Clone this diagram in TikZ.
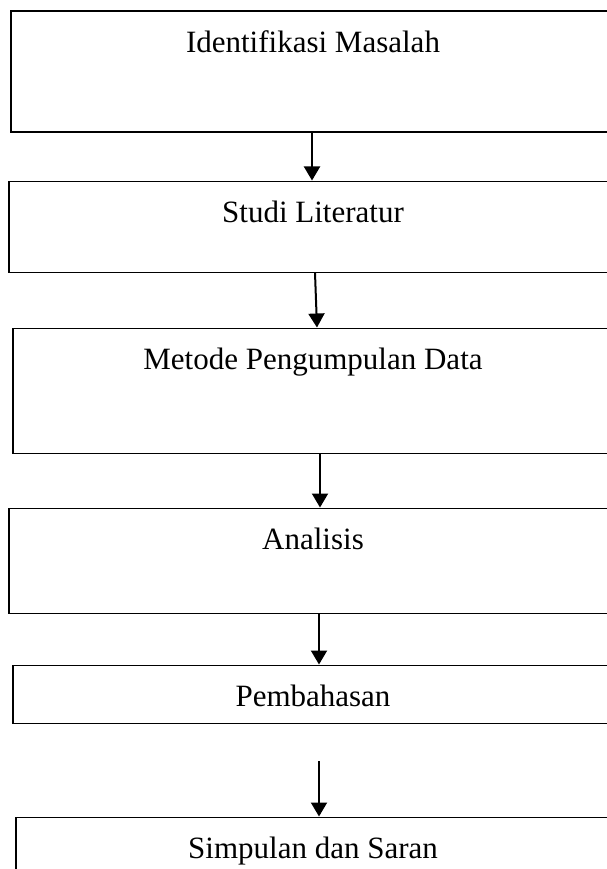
\documentclass[tikz,border=0pt]{standalone}
\usepackage{fontspec}
\setmainfont{Liberation Serif}
\usetikzlibrary{arrows.meta,positioning}

\begin{document}
\begin{tikzpicture}[x=1pt,y=1pt,>={Triangle[width=16pt,length=14pt]},
        node distance=48pt,
        tahap/.style={draw,line width=1.5pt,inner sep=0pt,text height=41pt,
          font=\fontsize{31}{37}\selectfont},
        panah/.style={->,line width=2pt}]

  \useasboundingbox (0,0) rectangle (606,-869);

  \node[tahap,anchor=north,minimum width=604pt,text depth=80pt] (masalah) at (313,-10.5) {Identifikasi Masalah};
  \node[tahap,minimum width=608pt,text depth=50pt] (literatur) [below=47.5pt of masalah] {Studi Literatur};
  \node[tahap,minimum width=600pt,text depth=84pt] (metode) [below=54.5pt of literatur] {Metode Pengumpulan Data};
  \node[tahap,minimum width=608pt,text depth=64pt] (analisis) [below=53.5pt of metode] {Analisis};
  \node[tahap,minimum width=600pt,text depth=17pt] (pembahasan) [below=50.5pt of analisis] {Pembahasan};
  \node[tahap,minimum width=594pt,text depth=60pt] (simpulan) [below=92.5pt of pembahasan] {Simpulan dan Saran};

  \coordinate (awal) at ([xshift=6pt,yshift=-37pt]pembahasan.south);

  \draw[panah] ([xshift=-1pt]masalah.south) -- ([xshift=-1pt]literatur.north);
  \draw[panah] ([xshift=2pt]literatur.south) -- ([xshift=4pt]metode.north);
  \draw[panah] ([xshift=7pt]metode.south) -- ([xshift=7pt]analisis.north);
  \draw[panah] ([xshift=6pt]analisis.south) -- ([xshift=6pt]pembahasan.north);
  \draw[panah] (awal) -- ([xshift=6pt]simpulan.north);

\end{tikzpicture}
\end{document}
